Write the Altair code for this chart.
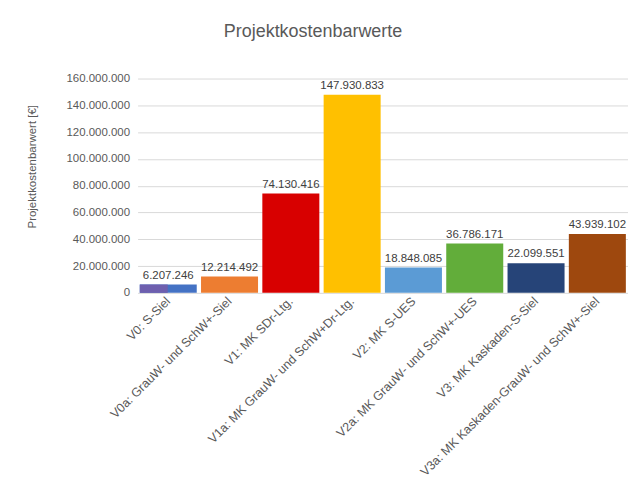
import altair as alt
import pandas as pd

categories = [
    "V0: S-Siel",
    "V0a: GrauW- und SchW+-Siel",
    "V1: MK SDr-Ltg.",
    "V1a: MK GrauW- und SchW+Dr-Ltg.",
    "V2: MK S-UES",
    "V2a: MK GrauW- und SchW+-UES",
    "V3: MK Kaskaden-S-Siel",
    "V3a: MK Kaskaden-GrauW- und SchW+-Siel",
]
values = [6207246, 12214492, 74130416, 147930833, 18848085, 36786171, 22099551, 43939102]
colors = ["#4472C4", "#ED7D31", "#D80000", "#FFC000", "#5B9BD5", "#62AD3A", "#264478", "#9E480E"]
accent_category = ["V0: S-Siel"]
accent_value = [6207246]
accent_color = ["#6E5FAE"]
y_ticks = [0, 20000000, 40000000, 60000000, 80000000, 100000000, 120000000, 140000000, 160000000]

df = pd.DataFrame({"cat": categories, "val": values, "col": colors})
df_acc = pd.DataFrame({"cat": accent_category, "val": accent_value, "col": accent_color})

x = alt.X("cat:N", sort=categories, title=None,
          scale=alt.Scale(paddingInner=0.07, paddingOuter=0.035),
          axis=alt.Axis(labelAngle=-45, labelAlign="right", labelBaseline="middle",
                        labelFontSize=12.5, labelColor="#595959", labelFont="Liberation Sans",
                        labelPadding=6, ticks=False, domain=False, labelLimit=400,
                        labelOverlap=False))
y = alt.Y("val:Q", title="Projektkostenbarwert [€]",
          scale=alt.Scale(domain=[0, 160000000], nice=False),
          axis=alt.Axis(values=y_ticks, format=",d",
                        labelFontSize=11.5, labelColor="#595959", labelFont="Liberation Sans",
                        labelPadding=8, ticks=False, domain=False, labelOverlap=False,
                        gridColor="#D9D9D9", gridWidth=1,
                        titleFontSize=11.5, titleColor="#595959", titleFont="Liberation Sans",
                        titleFontWeight="normal", titleX=-100, titleY=88))

base = alt.Chart(df).encode(x=x, y=y)
bars = base.mark_bar().encode(color=alt.Color("col:N", scale=None))
labels = base.mark_text(dy=-9, fontSize=11.5, color="#404040", font="Liberation Sans").encode(
    text=alt.Text("val:Q", format=",d")
)
accent = alt.Chart(df_acc).mark_bar(width=28, xOffset=-14.5).encode(
    x=x, y=y, color=alt.Color("col:N", scale=None)
)

chart = alt.layer(bars, accent, labels).properties(
    width=492, height=215,
    title=alt.TitleParams("Projektkostenbarwerte", fontSize=18, font="Liberation Sans",
                          fontWeight="normal", color="#595959", anchor="middle",
                          offset=32, dx=-70),
    autosize=alt.AutoSizeParams(type="none"),
    padding={"left": 130, "top": 70, "right": 0, "bottom": 190},
    background="white",
).configure(
    locale={"number": {"decimal": ",", "thousands": ".", "grouping": [3], "currency": ["", "€"]}}
).configure_view(stroke=None)

chart.save("out.html", embed_options={"renderer": "svg", "actions": False})
